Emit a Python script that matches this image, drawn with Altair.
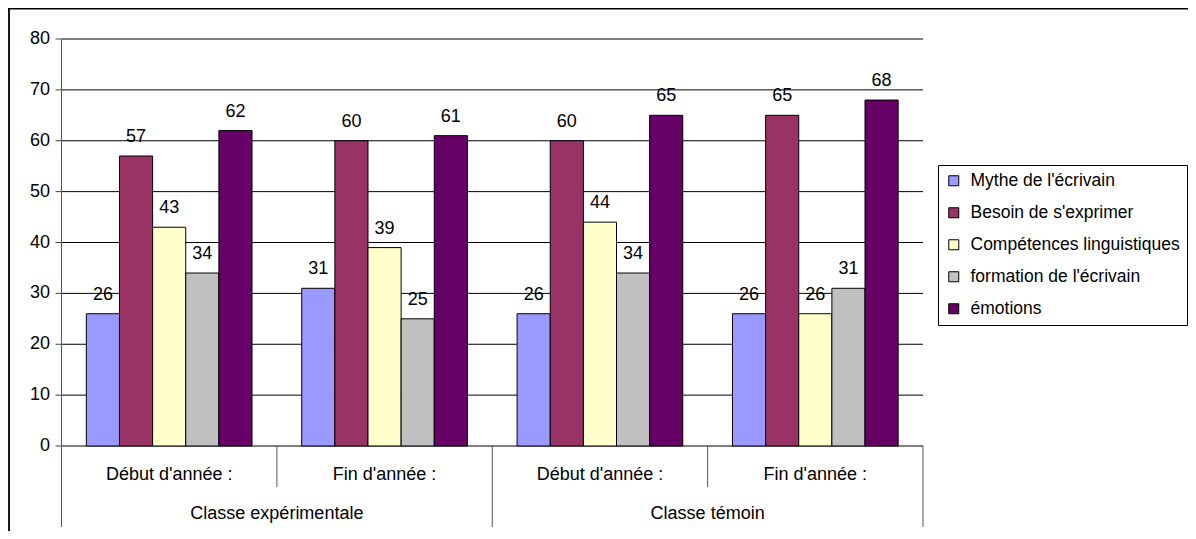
import altair as alt
import pandas as pd

# ---- data ----
groups = ["g1", "g2", "g3", "g4"]
periods = ["Début d'année :", "Fin d'année :", "Début d'année :", "Fin d'année :"]
classes = ["Classe expérimentale", "Classe témoin"]
class_groups = ["g1", "g3"]
series = ["Mythe de l'écrivain", "Besoin de s'exprimer", "Compétences linguistiques",
          "formation de l'écrivain", "émotions"]
colors = ["#9999FF", "#993366", "#FFFFCC", "#C0C0C0", "#660066"]
mythe = [26, 31, 26, 26]
besoin = [57, 60, 60, 65]
competences = [43, 39, 44, 26]
formation = [34, 25, 34, 31]
emotions = [62, 61, 65, 68]
y_ticks = [0, 10, 20, 30, 40, 50, 60, 70, 80]

values = [mythe, besoin, competences, formation, emotions]
rows = []
for s, vals in zip(series, values):
    for g, v in zip(groups, vals):
        rows.append({"key": g, "series": s, "value": v})
df = pd.DataFrame(rows)
df_ticks = pd.DataFrame({"v": y_ticks})
df_periods = pd.DataFrame({"key": groups, "label": periods})
df_classes = pd.DataFrame({"key": class_groups, "label": classes})
df_one = pd.DataFrame({"a": [0]})

FONT = "Liberation Sans"
FS = 18
X0, X1 = 53.5, 915
Y0, Y1 = 438, 31
W, H = 1180, 523

xscale = alt.Scale(domain=groups, range=[X0, X1], paddingInner=0, paddingOuter=0)
yscale = alt.Scale(domain=[0, 80], range=[Y0, Y1], nice=False, zero=True)
oscale = alt.Scale(domain=series, paddingInner=0, paddingOuter=0.75)

def X(bp=0.5):
    return alt.X("key:N", scale=xscale, axis=None, bandPosition=bp)

border_top = alt.Chart(df_one).mark_rule(color="black", strokeWidth=1.8).encode(
    x=alt.value(0), x2=alt.value(W), y=alt.value(0.5))
border_left = alt.Chart(df_one).mark_rule(color="black", strokeWidth=1.8).encode(
    x=alt.value(1), y=alt.value(0), y2=alt.value(H))

grid = alt.Chart(df_ticks).mark_rule(color="black", strokeWidth=1).encode(
    y=alt.Y("v:Q", scale=yscale, axis=None), x=alt.value(X0), x2=alt.value(X1))
ticks = alt.Chart(df_ticks).mark_rule(color="#444", strokeWidth=1).encode(
    y=alt.Y("v:Q", scale=yscale, axis=None), x=alt.value(47.5), x2=alt.value(X0))
tick_labels = alt.Chart(df_ticks).mark_text(
    align="right", baseline="middle", font=FONT, fontSize=FS, color="black").encode(
    y=alt.Y("v:Q", scale=yscale, axis=None), x=alt.value(42), text="v:Q")
yaxis = alt.Chart(pd.DataFrame({"lo": [0], "hi": [80]})).mark_rule(color="#555", strokeWidth=1).encode(
    x=alt.value(X0), y=alt.Y("lo:Q", scale=yscale, axis=None), y2="hi:Q")

bars = alt.Chart(df).mark_bar(stroke="black", strokeWidth=1).encode(
    x=X(),
    xOffset=alt.XOffset("series:N", sort=series, scale=oscale),
    y=alt.Y("value:Q", scale=yscale, axis=None),
    color=alt.Color("series:N", sort=series,
                    scale=alt.Scale(domain=series, range=colors),
                    legend=alt.Legend(
                        title=None, orient="none", legendX=930, legendY=157,
                        direction="vertical",
                        strokeColor="black", fillColor="white", padding=7,
                        symbolType="square", symbolSize=100,
                        symbolStrokeColor="black", symbolStrokeWidth=1,
                        symbolOpacity=1,
                        labelFont=FONT, labelFontSize=17.5, labelColor="black",
                        labelOffset=8, rowPadding=13, labelLimit=400)),
)
bar_labels = alt.Chart(df).mark_text(
    baseline="alphabetic", dy=-14, font=FONT, fontSize=FS, color="black").encode(
    x=X(),
    xOffset=alt.XOffset("series:N", sort=series, scale=oscale),
    y=alt.Y("value:Q", scale=yscale, axis=None),
    text="value:Q",
)

sep_long = alt.Chart(pd.DataFrame({"key": ["g1", "g3"]})).mark_rule(color="#555").encode(
    x=X(0), y=alt.value(Y0), y2=alt.value(519))
sep_end = alt.Chart(pd.DataFrame({"key": ["g4"]})).mark_rule(color="#555").encode(
    x=X(1), y=alt.value(Y0), y2=alt.value(519))
sep_short = alt.Chart(pd.DataFrame({"key": ["g2", "g4"]})).mark_rule(color="#555").encode(
    x=X(0), y=alt.value(Y0), y2=alt.value(479))

period_labels = alt.Chart(df_periods).mark_text(
    baseline="middle", font=FONT, fontSize=FS, color="black").encode(
    x=X(), y=alt.value(467), text="label:N")
class_labels = alt.Chart(df_classes).mark_text(
    baseline="middle", font=FONT, fontSize=FS, color="black").encode(
    x=X(1), y=alt.value(506), text="label:N")

chart = alt.layer(
    border_top, border_left, grid, ticks, tick_labels, bars, bar_labels, yaxis,
    sep_long, sep_end, sep_short, period_labels, class_labels,
).properties(
    width=W, height=H, padding=0, autosize="none", background="white"
).configure_view(stroke=None)

chart.save("out.html", embed_options={"renderer": "svg", "actions": False})
